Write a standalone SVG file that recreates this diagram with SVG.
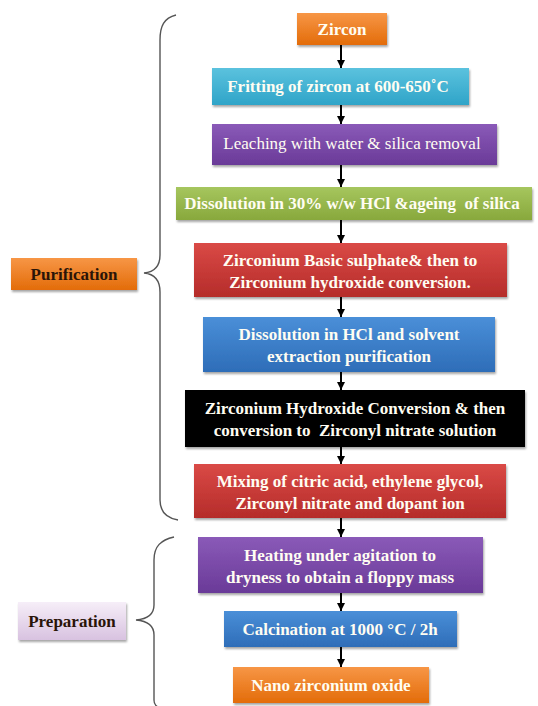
<svg xmlns="http://www.w3.org/2000/svg" width="538" height="706" viewBox="0 0 538 706">
<defs>
<linearGradient id="gOr" x1="0" y1="0" x2="0" y2="1"><stop offset="0" stop-color="#F79646"/><stop offset="1" stop-color="#E36C09"/></linearGradient>
<linearGradient id="gCy" x1="0" y1="0" x2="0" y2="1"><stop offset="0" stop-color="#5BC2DE"/><stop offset="1" stop-color="#2FA4C8"/></linearGradient>
<linearGradient id="gPu" x1="0" y1="0" x2="0" y2="1"><stop offset="0" stop-color="#8A5AB8"/><stop offset="1" stop-color="#6A3A98"/></linearGradient>
<linearGradient id="gGr" x1="0" y1="0" x2="0" y2="1"><stop offset="0" stop-color="#A6C65E"/><stop offset="1" stop-color="#88A83C"/></linearGradient>
<linearGradient id="gRd" x1="0" y1="0" x2="0" y2="1"><stop offset="0" stop-color="#DA4A46"/><stop offset="1" stop-color="#B52C2A"/></linearGradient>
<linearGradient id="gBl" x1="0" y1="0" x2="0" y2="1"><stop offset="0" stop-color="#4A8FD8"/><stop offset="1" stop-color="#2E6DB8"/></linearGradient>
<linearGradient id="gLv" x1="0" y1="0" x2="0" y2="1"><stop offset="0" stop-color="#F6EEF8"/><stop offset="1" stop-color="#D8C2E0"/></linearGradient>
<filter id="sh" x="-10%" y="-20%" width="120%" height="150%"><feDropShadow dx="1" dy="2" stdDeviation="1.2" flood-color="#000" flood-opacity="0.35"/></filter>
<marker id="ah" markerWidth="8" markerHeight="8" refX="8" refY="4" orient="auto" markerUnits="userSpaceOnUse"><path d="M0,0 L8,4 L0,8 z" fill="#000"/></marker>
</defs>
<style>
.t{font-family:"Liberation Serif","DejaVu Serif","Times New Roman",serif;font-weight:bold;font-size:17px;fill:#FFFDF2;text-anchor:middle}
.n{font-weight:normal}
.d{fill:#2a1408}
.c{stroke:#000;stroke-width:2;fill:none;marker-end:url(#ah)}
.br{stroke:#555;stroke-width:1.4;fill:none}
</style>
<g id="connectors">
<line class="c" x1="341" y1="45" x2="341" y2="68"/>
<line class="c" x1="341" y1="105" x2="341" y2="124"/>
<line class="c" x1="341" y1="165" x2="341" y2="187"/>
<line class="c" x1="341" y1="220" x2="341" y2="243"/>
<line class="c" x1="341" y1="297" x2="341" y2="317"/>
<line class="c" x1="341" y1="372" x2="341" y2="390"/>
<line class="c" x1="341" y1="447" x2="341" y2="464"/>
<line class="c" x1="341" y1="518" x2="341" y2="537"/>
<line class="c" x1="341" y1="593" x2="341" y2="611"/>
<line class="c" x1="341" y1="647" x2="341" y2="667"/>
</g>
<g id="braces">
<path class="br" d="M176,15 C164,18 160,26 160,40 L160,255 C160,266 154,272 144,273 C154,274 160,280 160,292 L160,500 C160,512 166,518 178,520"/>
<path class="br" d="M174,537 C161,540 154,546 154,560 L154,605 C154,614 148,619 136,620 C148,621 154,626 154,635 L154,700 C154,704 156,706 158,707"/>
</g>
<g id="purification"><rect x="11" y="258" width="126" height="32" fill="url(#gOr)" filter="url(#sh)"/><text class="t d" x="74" y="280">Purification</text></g>
<g id="preparation"><rect x="18" y="602" width="108" height="38" fill="url(#gLv)" filter="url(#sh)"/><text class="t d" x="72" y="627">Preparation</text></g>
<g id="zircon"><rect x="297" y="13" width="90" height="32" fill="url(#gOr)" filter="url(#sh)"/><text class="t" x="342" y="35">Zircon</text></g>
<g id="fritting"><rect x="212" y="68" width="257" height="37" fill="url(#gCy)" filter="url(#sh)"/><text class="t" x="338" y="92">Fritting of zircon at 600-650˚C</text></g>
<g id="leaching"><rect x="212" y="124" width="285" height="41" fill="url(#gPu)" filter="url(#sh)"/><text class="t n" x="352" y="149">Leaching with water &amp; silica removal</text></g>
<g id="dissolution"><rect x="176" y="187" width="356" height="33" fill="url(#gGr)" filter="url(#sh)"/><text class="t" x="352" y="209" xml:space="preserve">Dissolution in 30% w/w HCl &amp;ageing  of silica</text></g>
<g id="basic-sulphate"><rect x="194" y="243" width="313" height="54" fill="url(#gRd)" filter="url(#sh)"/><text class="t" x="350" y="266">Zirconium Basic sulphate&amp; then to</text><text class="t" x="350" y="288">Zirconium hydroxide conversion.</text></g>
<g id="solvent-extraction"><rect x="203" y="317" width="292" height="55" fill="url(#gBl)" filter="url(#sh)"/><text class="t" x="349" y="340">Dissolution in HCl and solvent</text><text class="t" x="349" y="362">extraction purification</text></g>
<g id="zirconyl-nitrate"><rect x="185" y="390" width="340" height="57" fill="#000" filter="url(#sh)"/><text class="t" x="355" y="414">Zirconium Hydroxide Conversion &amp; then</text><text class="t" x="355" y="436" xml:space="preserve">conversion to  Zirconyl nitrate solution</text></g>
<g id="mixing"><rect x="194" y="464" width="312" height="54" fill="url(#gRd)" filter="url(#sh)"/><text class="t" x="350" y="487">Mixing of citric acid, ethylene glycol,</text><text class="t" x="350" y="509">Zirconyl nitrate and dopant ion</text></g>
<g id="heating"><rect x="198" y="537" width="285" height="56" fill="url(#gPu)" filter="url(#sh)"/><text class="t" x="340" y="561">Heating under agitation to</text><text class="t" x="340" y="583">dryness to obtain a floppy mass</text></g>
<g id="calcination"><rect x="224" y="611" width="233" height="36" fill="url(#gBl)" filter="url(#sh)"/><text class="t" x="340" y="635">Calcination at 1000 °C / 2h</text></g>
<g id="nano-zro2"><rect x="233" y="667" width="196" height="36" fill="url(#gOr)" filter="url(#sh)"/><text class="t" x="331" y="691">Nano zirconium oxide</text></g>
</svg>
